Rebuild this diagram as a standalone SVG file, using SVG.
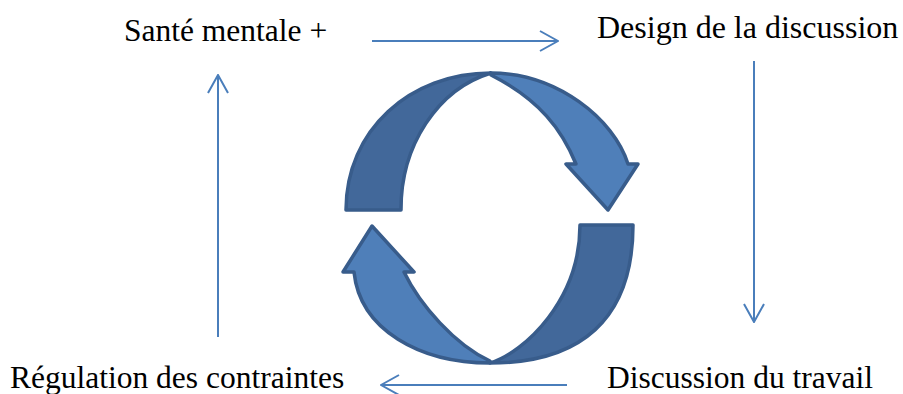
<svg xmlns="http://www.w3.org/2000/svg" width="903" height="394" viewBox="0 0 903 394">
  <style>
    .lbl { font-family: "Liberation Serif", "Times New Roman", serif; font-size: 31.5px; fill: #000; }
    .con { stroke: #4a7ebb; stroke-width: 2; fill: none; }
    .dark { fill: #42689a; stroke: #385c8b; stroke-width: 3.5; stroke-linejoin: round; }
    .light { fill: #4f7fb9; stroke: #385c8b; stroke-width: 3.5; stroke-linejoin: round; }
  </style>
  <defs>
    <marker id="chev" viewBox="0 0 20 22" refX="19" refY="11" markerWidth="20" markerHeight="22" markerUnits="userSpaceOnUse" orient="auto">
      <path d="M1,1 L19,11 L1,21" fill="none" stroke="#4a7ebb" stroke-width="2"/>
    </marker>
  </defs>
  <rect width="903" height="394" fill="#fff"/>

  <g id="cycle-top">
    <path class="dark" d="M346,210 C346,130 410,73 491,73 A120,140.5 0 0 0 401,210 Z"/>
    <path class="light" d="M491,73 C557,73 614,119 628,164 L638,164 L608,210 L566,164 L576,164 C562,130 540,100 491,75 Z"/>
  </g>
  <g id="cycle-bottom">
    <path class="dark" d="M633,225 C633,320 580,363 490,363 C525,352 580,300 580,225 Z"/>
    <path class="light" d="M490,363 C420,363 360,330 354,272 L343,272 L372,226 L414,272 L404,272 C420,305 455,345 490,361 Z"/>
  </g>

  <g id="connectors">
    <line class="con" x1="372" y1="41" x2="558" y2="41" marker-end="url(#chev)"/>
    <line class="con" x1="754" y1="61" x2="754" y2="322" marker-end="url(#chev)"/>
    <line class="con" x1="567" y1="385" x2="381" y2="385" marker-end="url(#chev)"/>
    <line class="con" x1="218" y1="337" x2="218" y2="75" marker-end="url(#chev)"/>
  </g>

  <g id="node-sante"><text class="lbl" x="124" y="41">Santé mentale +</text></g>
  <g id="node-design"><text class="lbl" x="597" y="38" style="font-size:32px">Design de la discussion</text></g>
  <g id="node-discussion"><text class="lbl" x="607" y="388">Discussion du travail</text></g>
  <g id="node-regulation"><text class="lbl" x="10" y="388">Régulation des contraintes</text></g>
</svg>
